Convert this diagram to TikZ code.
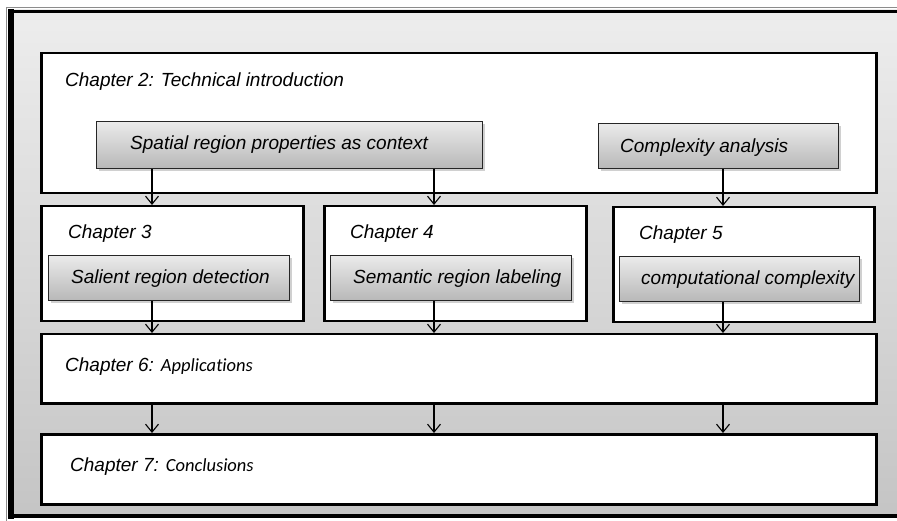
\documentclass[tikz,border=0pt]{standalone}
\usepackage{fontspec}
\setmainfont{Liberation Sans}
\newfontfamily\calib[RawFeature=-liga]{Carlito}
\usetikzlibrary{arrows.meta,shadows}
\tikzset{
  chapbox/.style={draw=black, line width=2.5pt, fill=white, anchor=north west, inner sep=0pt, rectangle},
  graybox/.style={draw=black!85, line width=1.3pt, top color=black!8, bottom color=black!28, anchor=north west, inner sep=0pt, rectangle,
    drop shadow={shadow xshift=2.5pt, shadow yshift=-2.5pt, opacity=0.3, fill=black!60}},
  lbl/.style={anchor=west, inner sep=0pt, font=\fontsize{19}{22}\selectfont\itshape},
  arr/.style={line width=1.1pt, -{Straight Barb[length=8pt,width=13pt,line width=1.1pt]}},
}
\begin{document}
\begin{tikzpicture}[x=1pt,y=-1pt]
\useasboundingbox (0,0) rectangle (897,521);
\fill[white] (0,0) rectangle (897,521);
% outer frame
\shade[top color=black!7, bottom color=black!23] (10,10) rectangle (897,517);
\draw[black!45, line width=1pt] (7,7.5) -- (897,7.5);
\draw[black!45, line width=1pt] (6.5,7) -- (6.5,521);
\draw[black, line width=3pt] (11,11.5) -- (897,11.5);
\draw[black, line width=4pt] (10,516) -- (897,516);
\draw[black, line width=6pt] (11,9) -- (11,519);
% chapter boxes
\node[chapbox, minimum width=835pt, minimum height=140pt] (c2) at (40,52) {};
\node[chapbox, minimum width=262pt, minimum height=115pt] (c3) at (40,205) {};
\node[chapbox, minimum width=262pt, minimum height=115pt] (c4) at (323,205) {};
\node[chapbox, minimum width=261pt, minimum height=115pt] (c5) at (612,206) {};
\node[chapbox, minimum width=835pt, minimum height=69pt] (c6) at (40,333) {};
\node[chapbox, minimum width=835pt, minimum height=70pt] (c7) at (40,433) {};
% gray boxes
\node[graybox, minimum width=386pt, minimum height=47pt] (sp) at (96,121) {};
\node[graybox, minimum width=240pt, minimum height=45pt] (ca) at (598,123) {};
\node[graybox, minimum width=241pt, minimum height=45pt] (sal) at (48,255) {};
\node[graybox, minimum width=241pt, minimum height=45pt] (sem) at (330,255) {};
\node[graybox, minimum width=240pt, minimum height=45pt] (comp) at (619,256) {};
% labels
\node[lbl] (t2) at (65,82) {Chapter 2: Technical introduction};
\node[lbl] (tsp) at (130,145) {Spatial region properties as context};
\node[lbl] (tca) at (620,148) {Complexity analysis};
\node[lbl] (t3) at (68,234) {Chapter 3};
\node[lbl] (tsal) at (71,279) {Salient region detection};
\node[lbl] (t4) at (350,234) {Chapter 4};
\node[lbl] (tsem) at (353,279) {Semantic region labeling};
\node[lbl] (t5) at (639,235) {Chapter 5};
\node[lbl] (tcomp) at (641,280) {computational complexity};
\node[lbl] (t6) at (65,367) {Chapter 6: {\calib\fontsize{18.5}{22}\selectfont Applications}};
\node[lbl] (t7) at (70,467) {Chapter 7: {\calib\fontsize{18.5}{22}\selectfont Conclusions}};
% arrow columns
\coordinate (xa) at (152,0);
\coordinate (xb) at (434,0);
\coordinate (xc) at (723,0);
\draw[arr] (sp.south -| xa) -- (c3.north -| xa);
\draw[arr] (sp.south -| xb) -- (c4.north -| xb);
\draw[arr] (ca.south -| xc) -- (c5.north -| xc);
\draw[arr] (sal.south -| xa) -- (c6.north -| xa);
\draw[arr] (sem.south -| xb) -- (c6.north -| xb);
\draw[arr] (comp.south -| xc) -- (c6.north -| xc);
\draw[arr] (c6.south -| xa) -- (c7.north -| xa);
\draw[arr] (c6.south -| xb) -- (c7.north -| xb);
\draw[arr] (c6.south -| xc) -- (c7.north -| xc);
\end{tikzpicture}
\end{document}
